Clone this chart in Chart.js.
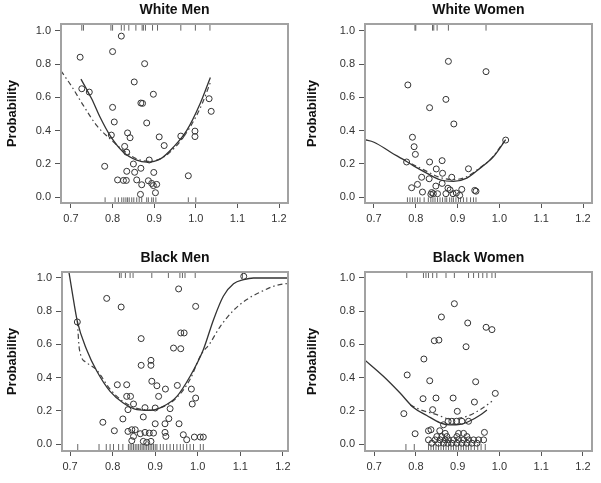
<!DOCTYPE html>
<html>
<head>
<meta charset="utf-8">
<script src="https://cdn.jsdelivr.net/npm/chart.js@4/dist/chart.umd.min.js"></script>
<style>
  body { margin: 0; background: #fff; }
  canvas { position: absolute; }
</style>
</head>
<body>
<canvas id="wm" width="300" height="240" style="left:0;top:0"></canvas>
<canvas id="ww" width="301" height="240" style="left:300px;top:0"></canvas>
<canvas id="bm" width="300" height="243" style="left:0;top:240px"></canvas>
<canvas id="bw" width="301" height="243" style="left:300px;top:240px"></canvas>
<script>
const xTicks = [0.7, 0.8, 0.9, 1.0, 1.1, 1.2];
const yTicks = [0.0, 0.2, 0.4, 0.6, 0.8, 1.0];
const yLabel = 'Probability';

// White Men
const wmX = [0.722,0.821,0.800,0.877,0.726,0.744,0.852,0.898,0.868,0.872,0.800,0.804,0.882,1.032,1.037,0.797,0.836,0.842,0.912,0.998,0.998,0.964,0.829,0.924,0.834,0.850,0.781,0.888,0.834,0.853,0.868,0.899,0.982,0.812,0.826,0.833,0.858,0.886,0.870,0.894,0.898,0.906,0.867,0.903];
const wmY = [0.842,0.969,0.876,0.803,0.652,0.632,0.693,0.619,0.566,0.564,0.540,0.452,0.446,0.592,0.516,0.373,0.386,0.357,0.362,0.397,0.364,0.367,0.305,0.310,0.270,0.199,0.185,0.223,0.155,0.149,0.173,0.148,0.128,0.103,0.100,0.100,0.103,0.098,0.074,0.082,0.069,0.076,0.016,0.026];
const wmRug1 = [0.726,0.730,0.796,0.800,0.821,0.828,0.839,0.856,0.871,0.874,0.879,0.896,0.908,0.964,0.999,1.034];
const wmRug0 = [0.782,0.806,0.814,0.822,0.827,0.832,0.836,0.840,0.846,0.851,0.858,0.864,0.870,0.882,0.886,0.894,0.898,0.904,0.982,1.000];
const wmFitX = [0.724,0.735,0.750,0.770,0.794,0.826,0.858,0.882,0.914,0.946,0.978,1.010,1.035];
const wmFitY = [0.71,0.66,0.59,0.48,0.37,0.27,0.222,0.21,0.228,0.30,0.40,0.56,0.72];
const wmSmX = [0.676,0.702,0.730,0.762,0.794,0.826,0.858,0.890,0.922,0.954,0.986,1.015,1.035];
const wmSmY = [0.76,0.665,0.55,0.43,0.35,0.28,0.23,0.215,0.24,0.31,0.42,0.56,0.69];

// White Women
const wwX = [0.878,0.968,0.781,0.872,0.833,0.891,0.792,0.796,0.799,1.015,0.778,0.833,0.863,0.849,0.926,0.814,0.832,0.864,0.886,0.804,0.790,0.816,0.838,0.842,0.836,0.848,0.863,0.877,0.882,0.889,0.897,0.910,0.941,0.944,0.852,0.872,0.905];
const wwY = [0.817,0.755,0.675,0.588,0.538,0.440,0.360,0.303,0.257,0.343,0.211,0.211,0.219,0.169,0.170,0.119,0.110,0.143,0.119,0.076,0.056,0.030,0.027,0.020,0.016,0.066,0.082,0.053,0.043,0.020,0.024,0.046,0.040,0.035,0.020,0.020,0.010];
const wwRug1 = [0.798,0.800,0.840,0.843,0.851,0.878,0.968];
const wwRug0 = [0.780,0.786,0.792,0.798,0.804,0.810,0.820,0.830,0.836,0.841,0.846,0.852,0.858,0.864,0.870,0.874,0.881,0.886,0.890,0.896,0.902,0.907,0.914,0.922,0.931,0.938,0.944];
const wwFitX = [0.678,0.700,0.740,0.778,0.800,0.826,0.858,0.890,0.922,0.954,0.986,1.015];
const wwFitY = [0.345,0.33,0.27,0.214,0.18,0.144,0.104,0.094,0.114,0.174,0.244,0.345];
const wwSmX = [0.790,0.810,0.830,0.850,0.870,0.890,0.920,0.950,0.980,1.010];
const wwSmY = [0.20,0.175,0.15,0.125,0.11,0.105,0.12,0.17,0.23,0.33];

// Black Men
const bmX = [0.786,0.820,0.955,0.995,0.867,0.960,0.968,0.943,0.960,0.867,0.890,0.890,0.717,0.811,0.833,0.892,0.904,0.924,0.952,0.985,0.833,0.842,0.849,0.908,0.876,0.900,0.935,0.836,0.995,0.987,0.777,0.824,0.872,0.900,0.923,0.932,0.956,0.804,0.836,0.845,0.853,0.849,0.865,0.876,0.886,0.896,0.923,0.925,0.966,0.974,0.992,1.006,1.013,0.845,0.872,0.880,0.890,1.108];
const bmY = [0.877,0.825,0.934,0.829,0.635,0.669,0.669,0.578,0.574,0.474,0.504,0.474,0.735,0.357,0.357,0.378,0.351,0.331,0.353,0.331,0.287,0.287,0.241,0.287,0.219,0.217,0.213,0.207,0.277,0.241,0.131,0.151,0.163,0.122,0.122,0.153,0.122,0.080,0.076,0.086,0.086,0.046,0.062,0.070,0.066,0.066,0.070,0.046,0.056,0.026,0.042,0.042,0.042,0.020,0.016,0.010,0.016,1.010];
const bmRug1 = [0.816,0.820,0.830,0.841,0.848,0.892,0.931,0.958,0.964,0.970,0.994,1.105];
const bmRug0 = [0.718,0.768,0.785,0.794,0.802,0.814,0.824,0.837,0.841,0.845,0.849,0.853,0.857,0.861,0.865,0.869,0.872,0.876,0.880,0.884,0.888,0.892,0.896,0.900,0.904,0.912,0.919,0.927,0.935,0.943,0.951,0.959,0.966,0.974,0.982,0.990,1.006,1.013];
const bmFitX = [0.697,0.704,0.717,0.739,0.763,0.794,0.825,0.857,0.888,0.919,0.951,0.982,1.013,1.037,1.060,1.084,1.108,1.131,1.160,1.212];
const bmFitY = [1.04,0.93,0.739,0.568,0.438,0.317,0.247,0.207,0.203,0.227,0.287,0.408,0.568,0.749,0.890,0.965,0.99,1.0,1.0,1.0];
const bmSmX = [0.717,0.722,0.739,0.763,0.794,0.825,0.857,0.888,0.919,0.951,0.982,1.006,1.029,1.053,1.084,1.115,1.147,1.178,1.202,1.212];
const bmSmY = [0.739,0.568,0.49,0.444,0.33,0.255,0.215,0.205,0.225,0.28,0.39,0.53,0.608,0.709,0.805,0.870,0.915,0.950,0.964,0.967];

// Black Women
const bwX = [0.892,0.861,0.924,0.968,0.982,0.844,0.855,0.920,0.819,0.779,0.833,0.943,0.990,0.817,0.848,0.889,0.940,0.771,0.840,0.899,0.798,0.830,0.836,0.857,0.877,0.886,0.897,0.910,0.926,0.964,0.866,0.870,0.902,0.914,0.830,0.846,0.858,0.870,0.878,0.890,0.902,0.914,0.926,0.938,0.950,0.962,0.838,0.854,0.866,0.876,0.886,0.898,0.910,0.922,0.934,0.946,0.850,0.862,0.874,0.898,0.922];
const bwY = [0.845,0.765,0.729,0.703,0.689,0.622,0.626,0.586,0.512,0.416,0.381,0.375,0.305,0.273,0.277,0.277,0.253,0.183,0.207,0.197,0.062,0.080,0.086,0.080,0.137,0.137,0.137,0.137,0.137,0.070,0.116,0.064,0.064,0.064,0.025,0.025,0.025,0.025,0.025,0.025,0.025,0.025,0.025,0.025,0.025,0.025,0.005,0.005,0.005,0.005,0.005,0.005,0.005,0.005,0.005,0.005,0.045,0.045,0.045,0.045,0.045];
const bwRug1 = [0.778,0.818,0.824,0.830,0.840,0.850,0.872,0.892,0.926,0.938,0.950,0.960,0.970,0.982,0.990];
const bwRug0 = [0.776,0.796,0.830,0.836,0.842,0.848,0.854,0.860,0.866,0.872,0.878,0.884,0.890,0.896,0.902,0.908,0.914,0.920,0.926,0.932,0.940,0.948,0.956,0.966];
const bwFitX = [0.678,0.722,0.762,0.794,0.826,0.858,0.882,0.906,0.930,0.954,0.970];
const bwFitY = [0.505,0.408,0.307,0.22,0.172,0.128,0.115,0.118,0.14,0.175,0.205];
const bwSmX = [0.786,0.810,0.850,0.882,0.922,0.954,0.982];
const bwSmY = [0.237,0.207,0.177,0.150,0.167,0.207,0.257];

Chart.defaults.font.family = "'Liberation Sans', Arial, sans-serif";
Chart.defaults.animation = false;

const tickFont = { family: "'Liberation Sans Narrow', 'Liberation Sans', Arial", size: 11 };

function zip(xs, ys) {
    return xs.map((x, i) => ({ x: x, y: ys[i] }));
}

// frame round the plot area and the panel title
const framePlugin = {
    id: 'frame',
    afterDraw(chart, args, opts) {
        const a = chart.chartArea;
        const c = chart.ctx;
        c.save();
        c.strokeStyle = '#a2a2a2';
        c.lineWidth = 2;
        c.strokeRect(a.left, a.top, a.right - a.left, a.bottom - a.top);
        c.fillStyle = '#111';
        c.font = "bold 14px 'Liberation Sans', Arial";
        c.textAlign = 'center';
        c.textBaseline = 'middle';
        c.fillText(opts.text, (a.left + a.right) / 2, opts.titleY);
        c.restore();
    }
};

function panel(id, p) {
    const cv = document.getElementById(id);
    const W = cv.width, H = cv.height;
    new Chart(cv, {
        type: 'scatter',
        data: {
            datasets: [
                {
                    data: zip(p.fitX, p.fitY), showLine: true, pointRadius: 0,
                    borderColor: '#333', borderWidth: 1.3, cubicInterpolationMode: 'monotone'
                },
                {
                    data: zip(p.smX, p.smY), showLine: true, pointRadius: 0,
                    borderColor: '#444', borderWidth: 1.2, borderDash: [5, 3, 1.5, 3],
                    cubicInterpolationMode: 'monotone'
                },
                {
                    data: zip(p.x, p.y), pointRadius: 3, pointStyle: 'circle',
                    borderColor: '#333', borderWidth: 1, backgroundColor: 'rgba(0,0,0,0)'
                },
                {
                    data: p.rug1.map(v => ({ x: v, y: 1 + p.rugOff })), pointStyle: 'line',
                    rotation: 90, pointRadius: 3, borderColor: '#666', borderWidth: 1, clip: false
                },
                {
                    data: p.rug0.map(v => ({ x: v, y: -p.rugOff })), pointStyle: 'line',
                    rotation: 90, pointRadius: 3, borderColor: '#666', borderWidth: 1, clip: false
                }
            ]
        },
        options: {
            responsive: false,
            devicePixelRatio: 1,
            events: [],
            layout: { padding: { top: p.box.top, right: W - p.box.right, left: 0, bottom: 0 } },
            plugins: {
                legend: { display: false },
                tooltip: { enabled: false },
                frame: { text: p.title, titleY: p.titleY }
            },
            scales: {
                x: {
                    type: 'linear', min: p.xr[0], max: p.xr[1],
                    afterBuildTicks: s => { s.ticks = xTicks.map(v => ({ value: v })); },
                    afterFit: s => { s.height = H - p.box.bottom; },
                    grid: { drawOnChartArea: false, tickLength: 5, tickColor: '#555' },
                    border: { display: false },
                    ticks: { font: tickFont, color: '#333', padding: 4, maxRotation: 0,
                        callback: v => v.toFixed(1) }
                },
                y: {
                    type: 'linear', min: p.yr[0], max: p.yr[1],
                    afterBuildTicks: s => { s.ticks = yTicks.map(v => ({ value: v })); },
                    afterFit: s => { s.width = p.box.left; },
                    grid: { drawOnChartArea: false, tickLength: 6, tickColor: '#555' },
                    border: { display: false },
                    ticks: { font: tickFont, color: '#333', padding: 4,
                        callback: v => v.toFixed(1) },
                    title: { display: true, text: yLabel, color: '#111',
                        font: { size: 13, weight: 'bold' }, padding: { top: 5, bottom: 0 } }
                }
            }
        },
        plugins: [framePlugin]
    });
}

panel('wm', {
    title: 'White Men', titleY: 10, x: wmX, y: wmY, rug1: wmRug1, rug0: wmRug0,
    fitX: wmFitX, fitY: wmFitY, smX: wmSmX, smY: wmSmY, rugOff: 0.02,
    box: { left: 61, right: 288, top: 24, bottom: 203 }, xr: [0.676, 1.2216], yr: [-0.036, 1.042]
});
panel('ww', {
    title: 'White Women', titleY: 10, x: wwX, y: wwY, rug1: wwRug1, rug0: wwRug0,
    fitX: wwFitX, fitY: wwFitY, smX: wwSmX, smY: wwSmY, rugOff: 0.02,
    box: { left: 65, right: 292, top: 24, bottom: 203 }, xr: [0.6785, 1.2215], yr: [-0.036, 1.042]
});
panel('bm', {
    title: 'Black Men', titleY: 18, x: bmX, y: bmY, rug1: bmRug1, rug0: bmRug0,
    fitX: bmFitX, fitY: bmFitY, smX: bmSmX, smY: bmSmY, rugOff: 0.018,
    box: { left: 62, right: 288, top: 32, bottom: 211 }, xr: [0.681, 1.212], yr: [-0.042, 1.036]
});
panel('bw', {
    title: 'Black Women', titleY: 18, x: bwX, y: bwY, rug1: bwRug1, rug0: bwRug0,
    fitX: bwFitX, fitY: bwFitY, smX: bwSmX, smY: bwSmY, rugOff: 0.018,
    box: { left: 65, right: 292, top: 32, bottom: 211 }, xr: [0.678, 1.2216], yr: [-0.042, 1.036]
});
</script>
</body>
</html>
